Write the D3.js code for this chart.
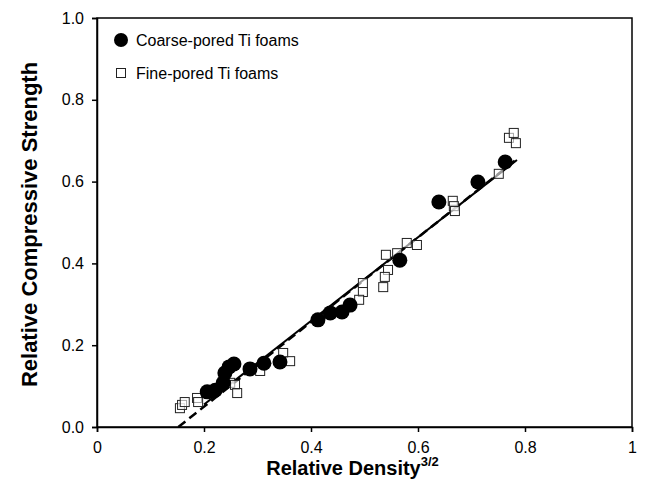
<!DOCTYPE html>
<html>
<head>
<meta charset="utf-8">
<script src="https://cdn.jsdelivr.net/npm/d3@7"></script>
<style>
  body { margin: 0; background: #fff; }
  text { font-family: "Liberation Sans", Arial, sans-serif; }
</style>
</head>
<body>
<svg></svg>
<script>
// chart values
const coarseX = [0.206, 0.221, 0.236, 0.239, 0.247, 0.256, 0.286, 0.312, 0.342,
                 0.413, 0.436, 0.458, 0.473, 0.566, 0.639, 0.712, 0.763];
const coarseY = [0.086, 0.090, 0.108, 0.132, 0.147, 0.154, 0.142, 0.156, 0.159,
                 0.262, 0.279, 0.281, 0.298, 0.408, 0.550, 0.599, 0.648];
const fineX = [0.155, 0.159, 0.164, 0.187, 0.189, 0.249, 0.258, 0.262, 0.305, 0.348,
               0.361, 0.497, 0.497, 0.490, 0.540, 0.561, 0.579, 0.598, 0.544, 0.538,
               0.535, 0.665, 0.667, 0.669, 0.751, 0.770, 0.779, 0.783];
const fineY = [0.046, 0.054, 0.061, 0.071, 0.061, 0.108, 0.103, 0.083, 0.137, 0.181,
               0.161, 0.352, 0.330, 0.311, 0.421, 0.425, 0.450, 0.445, 0.384, 0.367,
               0.342, 0.553, 0.540, 0.528, 0.619, 0.707, 0.719, 0.694];
// fit lines: [x, y] end points
const coarseFit = [[0.20, 0.055], [0.785, 0.653]];
const fineFit = [[0.152, 0.0], [0.785, 0.655]];

const xTicks = [0, 0.2, 0.4, 0.6, 0.8, 1];
const yTicks = [0, 0.2, 0.4, 0.6, 0.8, 1.0];
const legendLabels = ['Coarse-pored Ti foams', 'Fine-pored Ti foams'];

const size = {w: 646, h: 500};
const margin = {t: 18, r: 14, b: 73, l: 97};
const svg = d3.select('svg').attr('width', size.w).attr('height', size.h);

const x = d3.scaleLinear().domain([0, 1]).range([margin.l, size.w - margin.r]);
const y = d3.scaleLinear().domain([0, 1]).range([size.h - margin.b, margin.t]);

// frame
svg.append('rect')
    .attr('x', x(0)).attr('y', y(1))
    .attr('width', x(1) - x(0)).attr('height', y(0) - y(1))
    .attr('fill', 'none').attr('stroke', '#000').attr('stroke-width', 1.5);

const xAxis = svg.append('g')
    .attr('transform', `translate(0,${y(0)})`)
    .call(d3.axisBottom(x).tickValues(xTicks).tickFormat(d => d === 0 || d === 1 ? d : d3.format('.1f')(d)).tickSize(5).tickPadding(10));
const yAxis = svg.append('g')
    .attr('transform', `translate(${x(0)},0)`)
    .call(d3.axisLeft(y).tickValues(yTicks).tickFormat(d3.format('.1f')).tickSize(5).tickPadding(8));

[xAxis, yAxis].forEach(g => {
  g.select('.domain').attr('stroke', '#000').attr('stroke-width', 1.5);
  g.selectAll('.tick line').attr('stroke', '#000').attr('stroke-width', 1.5);
  g.selectAll('.tick text').attr('font-size', 16).attr('fill', '#000')
    .attr('font-family', '"Liberation Sans", Arial, sans-serif');
});

// fit lines
const line = d3.line().x(d => x(d[0])).y(d => y(d[1]));
svg.append('path').datum(fineFit).attr('d', line)
    .attr('fill', 'none').attr('stroke', '#000').attr('stroke-width', 2.5)
    .attr('stroke-dasharray', '9,5');
svg.append('path').datum(coarseFit).attr('d', line)
    .attr('fill', 'none').attr('stroke', '#000').attr('stroke-width', 2);

// points
const sq = 9;
svg.append('g').selectAll('rect')
    .data(d3.range(fineX.length))
    .enter()
    .append('rect')
    .attr('x', i => x(fineX[i]) - sq / 2)
    .attr('y', i => y(fineY[i]) - sq / 2)
    .attr('width', sq).attr('height', sq)
    .attr('fill', '#fff').attr('fill-opacity', 0.6)
    .attr('stroke', '#222').attr('stroke-width', 1);

svg.append('g').selectAll('circle')
    .data(d3.range(coarseX.length))
    .enter()
    .append('circle')
    .attr('cx', i => x(coarseX[i]))
    .attr('cy', i => y(coarseY[i]))
    .attr('r', 7.5)
    .attr('fill', '#000');

// legend
const leg = svg.append('g');
leg.append('circle').attr('cx', 121).attr('cy', 40).attr('r', 7).attr('fill', '#000');
leg.append('rect').attr('x', 116.5).attr('y', 68.5).attr('width', sq).attr('height', sq)
    .attr('fill', '#fff').attr('stroke', '#222').attr('stroke-width', 1);
leg.selectAll('text')
    .data(legendLabels)
    .enter()
    .append('text')
    .attr('x', 136)
    .attr('y', (d, i) => 46 + i * 33)
    .attr('font-size', 16)
    .text(d => d);

// axis titles
const xt = svg.append('text')
    .attr('x', (x(0) + x(1)) / 2 - 12)
    .attr('y', 475)
    .attr('text-anchor', 'middle')
    .attr('font-size', 20).attr('font-weight', 'bold');
xt.append('tspan').text('Relative Density');
xt.append('tspan').attr('font-size', 13).attr('dy', -9).text('3/2');

svg.append('text')
    .attr('transform', `translate(37,${(y(0) + y(1)) / 2 + 2}) rotate(-90)`)
    .attr('text-anchor', 'middle')
    .attr('font-size', 22).attr('font-weight', 'bold')
    .text('Relative Compressive Strength');
</script>
</body>
</html>
